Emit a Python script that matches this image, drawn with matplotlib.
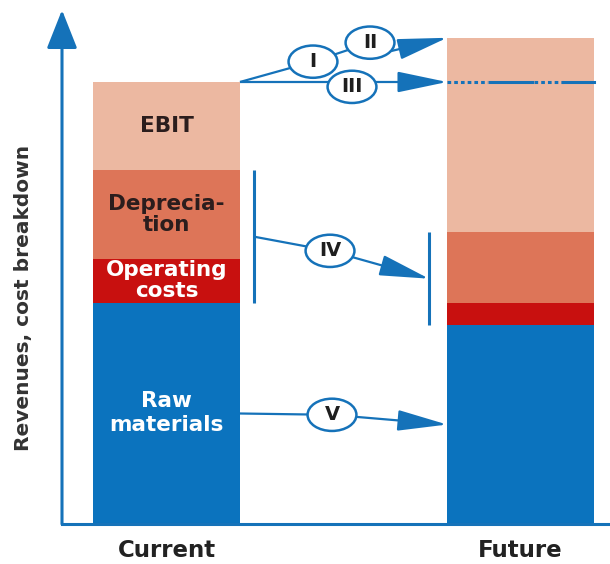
import matplotlib
matplotlib.use("Agg")
import matplotlib.pyplot as plt
from matplotlib.patches import Ellipse, FancyArrowPatch
import numpy as np

# Revenue / cost breakdown (index: current revenues = 100)
scenarios = ["Current", "Future"]
raw_materials = [50, 45]
operating_costs = [10, 5]
depreciation = [20, 16]
ebit = [20, 44]

segment_labels = ["Raw\nmaterials", "Operating\ncosts", "Deprecia-\ntion", "EBIT"]
segment_colors = ["#0b73be", "#c8100f", "#dd7558", "#ecb8a1"]
label_colors = ["white", "white", "#2b1d1d", "#2b1d1d"]
label_spacing = [1.25, 1.05, 1.05, 1.0]
badge_numerals = ["I", "II", "III", "IV", "V"]

BLUE = "#1572b9"
BAR_W = 0.415

fig = plt.figure(figsize=(6.10, 5.64), dpi=100)
ax = fig.add_axes([62 / 610, 40 / 564, 548 / 610, 524 / 564])
ax.set_xlim(-0.2952, 1.2528)
ax.set_ylim(0, 118.55)

x = np.arange(len(scenarios))
stack = [raw_materials, operating_costs, depreciation, ebit]
bottom = np.zeros(len(scenarios))
for vals, col, lab, tcol, ls in zip(stack, segment_colors, segment_labels,
                                     label_colors, label_spacing):
    vals = np.asarray(vals, dtype=float)
    ax.bar(x, vals, width=BAR_W, bottom=bottom, color=col, linewidth=0, zorder=2)
    ax.text(x[0], bottom[0] + vals[0] / 2, lab, ha="center", va="center",
            fontsize=15.5, fontweight="bold", color=tcol, linespacing=ls, zorder=3)
    bottom = bottom + vals

totals = bottom
cur_right = x[0] + BAR_W / 2
fut_left = x[1] - BAR_W / 2
fut_right = x[1] + BAR_W / 2


def line(p0, p1, lw=1.6, z=4):
    ax.plot([p0[0], p1[0]], [p0[1], p1[1]], color=BLUE, lw=lw, zorder=z,
            solid_capstyle="butt", clip_on=False)


def arrow(p0, p1):
    ax.add_patch(FancyArrowPatch(p0, p1, arrowstyle="-|>,head_length=31,head_width=6.5",
                                 mutation_scale=1, color=BLUE, lw=1.6,
                                 shrinkA=0, shrinkB=0, zorder=4))


badge_pos = {
    "I": (0.4138, 104.6),
    "II": (0.5749, 108.9),
    "III": (0.5240, 98.9),
    "IV": (0.4619, 61.8),
    "V": (0.4675, 24.7),
}
BADGE_W, BADGE_H = 0.138, 7.3


def badge(name):
    bx, by = badge_pos[name]
    ax.add_patch(Ellipse((bx, by), BADGE_W, BADGE_H, facecolor="white",
                         edgecolor=BLUE, lw=1.8, zorder=5))
    ax.text(bx, by, name, ha="center", va="center", fontsize=14,
            fontweight="bold", color="#1e1e1e", zorder=6)


# I / II: growth of revenues
origin = (cur_right, totals[0])
line(origin, badge_pos["I"])
line(badge_pos["I"], badge_pos["II"])
arrow((badge_pos["II"][0] + 0.028, badge_pos["II"][1] - 2.5), (fut_left, totals[1]))

# III: current revenue level carried across
line(origin, (badge_pos["III"][0], totals[0]))
arrow((badge_pos["III"][0], totals[0]), (fut_left, totals[0]))
level_segments = [(0.00, 0.28, (0, (1.2, 1.0))), (0.29, 0.58, "-"),
                  (0.59, 0.79, (0, (1.2, 1.0))), (0.79, 1.00, "-")]
for a, b, style in level_segments:
    ax.plot([fut_left + a * BAR_W, fut_left + b * BAR_W], [totals[0], totals[0]],
            color=BLUE, lw=2.2, linestyle=style, zorder=4)

# IV: depreciation + operating costs
cur_lo = raw_materials[0]
cur_hi = raw_materials[0] + operating_costs[0] + depreciation[0]
fut_lo = raw_materials[1]
fut_hi = raw_materials[1] + operating_costs[1] + depreciation[1]
xv_cur = cur_right + 0.04
xv_fut = fut_left - 0.051
line((xv_cur, cur_lo), (xv_cur, cur_hi), lw=2.2)
line((xv_fut, fut_lo), (xv_fut, fut_hi), lw=2.2)
line((xv_cur, (cur_lo + cur_hi) / 2), badge_pos["IV"])
arrow(badge_pos["IV"], (xv_fut, (fut_lo + fut_hi) / 2))

# V: raw materials
line((cur_right, raw_materials[0] / 2), badge_pos["V"])
arrow(badge_pos["V"], (fut_left, raw_materials[1] / 2))

for name in badge_numerals:
    badge(name)

# Axes drawn as arrows
ax.annotate("", xy=(0, 1 - 10 / 524), xytext=(0, 0), xycoords="axes fraction",
            textcoords="axes fraction",
            arrowprops=dict(arrowstyle="-|>,head_length=24,head_width=9.5",
                            mutation_scale=1, color=BLUE, lw=2.2,
                            shrinkA=0, shrinkB=0), zorder=7, annotation_clip=False)
ax.plot([0, 1], [0, 0], transform=ax.transAxes, color=BLUE, lw=2.2,
        clip_on=False, solid_capstyle="projecting", zorder=7)

for sp in ax.spines.values():
    sp.set_visible(False)
ax.set_yticks([])
ax.set_xticks(x, scenarios, fontsize=16.5, fontweight="bold", color="#222222")
ax.tick_params(axis="x", length=0, pad=11)

fig.text(24 / 610, 1 - 298 / 564, "Revenues, cost breakdown", rotation=90,
         ha="center", va="center", fontsize=14.5, fontweight="bold", color="#333333")

fig.savefig("out.png", dpi=100)
